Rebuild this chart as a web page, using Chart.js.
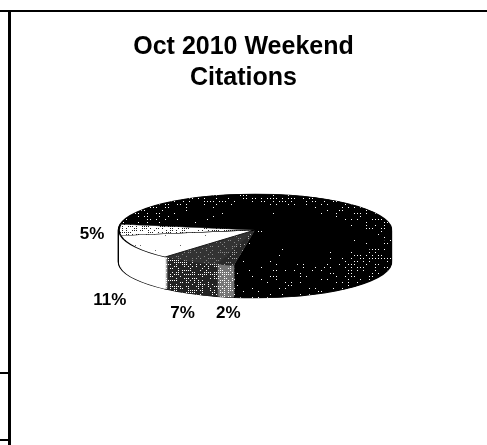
<!DOCTYPE html>
<html>
<head>
<meta charset="utf-8">
<style>
  html, body { margin: 0; padding: 0; background: #fff; overflow: hidden; }
  #wrap { position: relative; width: 487px; height: 445px; }
  .rule { position: absolute; background: #000; }
</style>
<script src="https://cdn.jsdelivr.net/npm/chart.js@4/dist/chart.umd.min.js"></script>
</head>
<body>
<div id="wrap">
  <canvas id="pieChart" width="487" height="445"></canvas>
  <div class="rule" style="left:0;top:10px;width:487px;height:2px"></div>
  <div class="rule" style="left:8px;top:10px;width:3px;height:435px"></div>
  <div class="rule" style="left:0;top:372px;width:8px;height:2px"></div>
  <div class="rule" style="left:0;top:439px;width:8px;height:2px"></div>
</div>
<script>
const titleLines = ['Oct 2010 Weekend', 'Citations'];
const categories = ['Main', 'Slice 2', 'Slice 7', 'Slice 11', 'Slice 5'];
const sliceValues = [75, 2, 7, 11, 5];
const hiddenLabels = ['Main'];

// where the flattened pie sits on the page
const pieCentreX = 255, pieCentreY = 230;
const pieRadiusX = 136, pieRadiusY = 36, pieDepth = 32;

// label shift from the slice rim, in pixels
const labelShift = {
  'Slice 2': [3, 48],
  'Slice 7': [-7, 52],
  'Slice 11': [-26, 53],
  'Slice 5': [-27, 4]
};

// fixed speckle so the scan texture is the same on every run
function speck(x, y) {
  const v = Math.sin(x * 12.9898 + y * 78.233) * 43758.5453;
  return v - Math.floor(v);
}

function makeTexture(base, dot, step, density) {
  const c = document.createElement('canvas');
  c.width = 487;
  c.height = 445;
  const g = c.getContext('2d');
  g.fillStyle = base;
  g.fillRect(0, 0, c.width, c.height);
  g.fillStyle = dot;
  for (let y = 0; y < c.height; y += step) {
    for (let x = 0; x < c.width; x += step) {
      if (speck(x, y) < density(x, y)) g.fillRect(x, y, 1, 1);
    }
  }
  return g.createPattern(c, 'no-repeat');
}

const ctx = document.getElementById('pieChart').getContext('2d');

const topDensity = function (x, y) {
  const ex = (x - pieCentreX) / pieRadiusX, ey = (y - pieCentreY) / pieRadiusY;
  const r = Math.sqrt(ex * ex + ey * ey);
  if (y < pieCentreY && r > 0.7) return 0.12 + (r - 0.7) * 1.1;
  return r > 0.85 ? 0.12 : 0.02;
};
const sideDensity = function (x) {
  return 0.06 + Math.max(0, x - 250) / 150 * 0.45;
};

const topFills = [
  makeTexture('#000', '#fff', 3, topDensity),
  makeTexture('#2a2a2a', '#aaa', 2, () => 0.3),
  makeTexture('#333', '#888', 2, () => 0.35),
  makeTexture('#fff', '#666', 5, () => 0.08),
  makeTexture('#fff', '#222', 2, () => 0.45)
];
const sideFills = [
  makeTexture('#000', '#fff', 3, sideDensity),
  makeTexture('#777', '#fff', 2, () => 0.6),
  makeTexture('#222', '#fff', 2, () => 0.4),
  '#fff',
  '#fff'
];

function drawSlice(arc, fill, lineWidth) {
  const saved = arc.options;
  arc.options = Object.assign({}, saved, { backgroundColor: fill, borderColor: '#000', borderWidth: lineWidth });
  if (fill instanceof CanvasPattern) {
    fill.setTransform(ctx.getTransform().inverse());
  }
  arc.draw(ctx);
  arc.options = saved;
}

// squashes the library's arcs and stacks them to get the old 3D pie look
const flatPie = {
  id: 'flatPie',
  beforeDatasetDraw(chart, args) {
    const arcs = args.meta.data;
    const x = arcs[0].x, y = arcs[0].y, r = arcs[0].outerRadius;
    const sx = pieRadiusX / r, sy = pieRadiusY / r;

    function place(drop) {
      ctx.setTransform(sx, 0, 0, sy, pieCentreX - x * sx, pieCentreY + drop - y * sy);
    }

    ctx.save();
    // black silhouette first, it leaves the outline round the sides
    for (let d = pieDepth; d >= 0; d--) {
      place(d);
      arcs.forEach(function (arc) { drawSlice(arc, '#000', 3); });
    }
    for (let d = pieDepth; d > 0; d--) {
      place(d);
      arcs.forEach(function (arc, i) { drawSlice(arc, sideFills[i], 0); });
    }
    place(0);
    arcs.forEach(function (arc, i) { drawSlice(arc, topFills[i], 0); });
    // thin dark line round the pale slices on top
    arcs.forEach(function (arc, i) {
      if (i >= 3) {
        const o = arc.options;
        arc.options = Object.assign({}, o, { backgroundColor: 'rgba(0,0,0,0)', borderColor: '#000', borderWidth: 2 });
        arc.draw(ctx);
        arc.options = o;
      }
    });
    ctx.restore();
    return false;
  },
  afterDatasetsDraw(chart) {
    ctx.save();
    ctx.fillStyle = '#000';
    ctx.font = 'bold 17px "Liberation Sans", Arial, sans-serif';
    ctx.textAlign = 'center';
    ctx.textBaseline = 'middle';
    chart.getDatasetMeta(0).data.forEach(function (arc, i) {
      const name = categories[i];
      if (hiddenLabels.includes(name)) return;
      const mid = (arc.startAngle + arc.endAngle) / 2;
      const shift = labelShift[name];
      ctx.fillText(
        sliceValues[i] + '%',
        pieCentreX + Math.cos(mid) * pieRadiusX + shift[0],
        pieCentreY + Math.sin(mid) * pieRadiusY + shift[1]
      );
    });
    ctx.restore();
  }
};

new Chart(ctx, {
  type: 'pie',
  data: {
    labels: categories,
    datasets: [{ data: sliceValues, backgroundColor: '#000', borderWidth: 0 }]
  },
  options: {
    responsive: false,
    animation: false,
    rotation: 279,
    layout: { padding: 20 },
    plugins: {
      legend: { display: false },
      tooltip: { enabled: false },
      title: {
        display: true,
        text: titleLines,
        color: '#000',
        font: { family: '"Liberation Sans", Arial, sans-serif', size: 25, weight: 'bold', lineHeight: 1.24 },
        padding: { top: 12, bottom: 10 }
      }
    }
  },
  plugins: [flatPie]
});
</script>
</body>
</html>
